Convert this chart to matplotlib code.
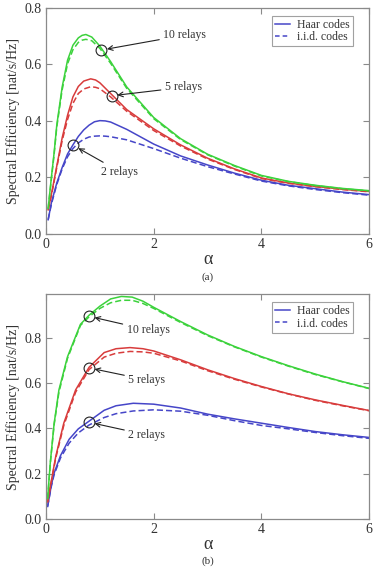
import numpy as np
import matplotlib.pyplot as plt
from matplotlib.lines import Line2D

plt.rcParams['font.family'] = ['Liberation Serif', 'DejaVu Serif']

# ---- panel (a) ----
a_x_b = [0.04, 0.1, 0.2, 0.3, 0.4, 0.5, 0.6, 0.7, 0.8, 0.9, 1.0, 1.1, 1.2, 1.5, 2.0, 2.5, 3.0, 3.5, 4.0, 4.5, 5.0, 5.5, 6.0]
a_blue_haar = [0.05, 0.11, 0.18, 0.235, 0.283, 0.315, 0.345, 0.368, 0.385, 0.397, 0.401, 0.4, 0.396, 0.37, 0.318, 0.276, 0.244, 0.215, 0.19, 0.172, 0.16, 0.148, 0.139]
a_blue_iid = [0.05, 0.105, 0.175, 0.23, 0.273, 0.302, 0.322, 0.335, 0.343, 0.346, 0.347, 0.346, 0.344, 0.333, 0.302, 0.268, 0.238, 0.212, 0.187, 0.17, 0.157, 0.146, 0.137]

a_x_r = [0.04, 0.1, 0.2, 0.3, 0.4, 0.5, 0.6, 0.7, 0.83, 0.92, 1.0, 1.2, 1.5, 2.0, 2.5, 3.0, 3.5, 4.0, 4.5, 5.0, 5.5, 6.0]
a_red_haar = [0.085, 0.14, 0.24, 0.34, 0.42, 0.485, 0.522, 0.541, 0.549, 0.545, 0.535, 0.497, 0.44, 0.372, 0.315, 0.268, 0.23, 0.198, 0.18, 0.168, 0.158, 0.15]
a_red_iid = [0.085, 0.135, 0.235, 0.33, 0.405, 0.462, 0.497, 0.513, 0.521, 0.519, 0.514, 0.485, 0.434, 0.366, 0.311, 0.265, 0.228, 0.196, 0.179, 0.167, 0.157, 0.149]

a_x_g = [0.04, 0.1, 0.15, 0.2, 0.3, 0.4, 0.5, 0.6, 0.67, 0.74, 0.85, 1.0, 1.2, 1.5, 2.0, 2.5, 3.0, 3.5, 4.0, 4.5, 5.0, 5.5, 6.0]
a_green_haar = [0.09, 0.2, 0.286, 0.385, 0.52, 0.615, 0.668, 0.694, 0.703, 0.706, 0.697, 0.665, 0.61, 0.52, 0.412, 0.337, 0.282, 0.242, 0.207, 0.186, 0.172, 0.161, 0.153]
a_green_iid = [0.09, 0.195, 0.28, 0.378, 0.51, 0.602, 0.652, 0.678, 0.686, 0.689, 0.684, 0.657, 0.604, 0.515, 0.408, 0.334, 0.28, 0.24, 0.205, 0.185, 0.171, 0.16, 0.152]

# ---- panel (b) ----
b_x_b = [0.03, 0.1, 0.15, 0.27, 0.43, 0.6, 0.8, 1.08, 1.3, 1.62, 2.0, 2.5, 3.0, 3.5, 4.0, 4.5, 5.0, 5.5, 6.0]
b_blue_haar = [0.055, 0.15, 0.202, 0.28, 0.352, 0.398, 0.432, 0.48, 0.5, 0.511, 0.507, 0.49, 0.463, 0.442, 0.423, 0.404, 0.386, 0.372, 0.36]
b_blue_iid = [0.055, 0.145, 0.195, 0.27, 0.335, 0.38, 0.415, 0.448, 0.465, 0.477, 0.482, 0.476, 0.458, 0.434, 0.413, 0.398, 0.382, 0.368, 0.356]

b_x_r = [0.03, 0.1, 0.18, 0.33, 0.55, 0.8, 1.08, 1.3, 1.56, 1.8, 2.0, 2.5, 3.0, 3.5, 4.0, 4.5, 5.0, 5.5, 6.0]
b_red_haar = [0.075, 0.17, 0.275, 0.423, 0.57, 0.67, 0.735, 0.752, 0.757, 0.752, 0.742, 0.703, 0.659, 0.62, 0.585, 0.553, 0.526, 0.502, 0.479]
b_red_iid = [0.075, 0.165, 0.268, 0.413, 0.56, 0.66, 0.715, 0.732, 0.74, 0.738, 0.732, 0.698, 0.655, 0.617, 0.583, 0.552, 0.524, 0.5, 0.478]

b_x_g = [0.03, 0.08, 0.15, 0.24, 0.4, 0.64, 0.8, 1.0, 1.2, 1.4, 1.6, 1.8, 2.0, 2.5, 3.0, 3.5, 4.0, 4.5, 5.0, 5.5, 6.0]
b_green_haar = [0.09, 0.25, 0.42, 0.57, 0.717, 0.86, 0.9, 0.94, 0.972, 0.983, 0.98, 0.962, 0.935, 0.872, 0.813, 0.762, 0.717, 0.677, 0.64, 0.607, 0.577]
b_green_iid = [0.09, 0.245, 0.415, 0.56, 0.71, 0.855, 0.893, 0.93, 0.955, 0.966, 0.966, 0.952, 0.93, 0.868, 0.81, 0.76, 0.715, 0.675, 0.638, 0.606, 0.576]

labels = ['2 relays', '5 relays', '10 relays']
a_circles = [(0.51, 0.313), (1.22, 0.489), (1.03, 0.651)]
a_text = [(1.03, 0.22), (2.21, 0.519), (2.18, 0.704)]
b_circles = [(0.8, 0.427), (0.8, 0.667), (0.8, 0.895)]
b_text = [(1.53, 0.371), (1.53, 0.614), (1.5, 0.835)]

blue = '#4646c8'
red = '#d83c3c'
green = '#3cd23c'
gray = '#8a8a8a'
txt = '#333333'

fig = plt.figure(figsize=(3.74, 5.69), dpi=100)
ax1 = fig.add_axes([0.123, 0.589, 0.864, 0.397])
ax2 = fig.add_axes([0.123, 0.088, 0.864, 0.395])


def panel(ax, data, circles, texts, ymax, tag):
    for x, haar, iid, c in data:
        ax.plot(x, haar, '-', color=c, lw=1.1)
        ax.plot(x, iid, '--', color=c, lw=1.1, dashes=(4, 2))
    for (cx, cy), (tx, ty), lab in zip(circles, texts, labels):
        ax.plot(cx, cy, 'o', mfc='none', mec='#222222', ms=7.8, mew=0.8)
        ax.annotate(lab, xy=(cx, cy), xytext=(tx, ty), fontsize=8.5, color=txt,
                    va='center', ha='left',
                    arrowprops=dict(arrowstyle='->,head_length=0.4,head_width=0.2',
                                    color='#222222', lw=0.8, shrinkA=1, shrinkB=4))
    ax.set_xlim(0, 6)
    ax.set_ylim(0, ymax)
    ax.set_xticks([0, 2, 4, 6])
    ax.set_yticks([0.0, 0.2, 0.4, 0.6, 0.8])
    ax.set_yticklabels(['0.0', '0.2', '0.4', '0.6', '0.8'])
    ax.tick_params(direction='in', top=True, right=True, labelsize=10,
                   colors=gray, labelcolor=txt, length=4, width=0.8, pad=3)
    for s in ax.spines.values():
        s.set_color(gray)
        s.set_linewidth(0.9)
    ax.set_ylabel('Spectral Efficiency [nat/s/Hz]', fontsize=10, color=txt, labelpad=3)
    ax.set_xlabel('α', fontsize=13, color=txt, labelpad=0)
    ax.text(0.5, -0.19, tag, transform=ax.transAxes, ha='center', va='center',
            fontsize=8, color=txt)
    handles = [Line2D([], [], color=blue, lw=1.1),
               Line2D([], [], color=blue, lw=1.1, ls='--', dashes=(3, 2))]
    leg = ax.legend(handles, ['Haar codes', 'i.i.d. codes'], loc='upper right',
                    bbox_to_anchor=(0.95, 0.965), fontsize=8.5, fancybox=False,
                    handlelength=1.3, handletextpad=0.6, borderpad=0.25,
                    labelspacing=0.05, borderaxespad=0)
    leg.get_frame().set_edgecolor(gray)
    leg.get_frame().set_linewidth(0.8)
    for t in leg.get_texts():
        t.set_color(txt)


panel(ax1, [(a_x_b, a_blue_haar, a_blue_iid, blue),
            (a_x_r, a_red_haar, a_red_iid, red),
            (a_x_g, a_green_haar, a_green_iid, green)],
      a_circles, a_text, 0.8, '(a)')
panel(ax2, [(b_x_b, b_blue_haar, b_blue_iid, blue),
            (b_x_r, b_red_haar, b_red_iid, red),
            (b_x_g, b_green_haar, b_green_iid, green)],
      b_circles, b_text, 0.993, '(b)')

fig.savefig('out.png', dpi=100)
